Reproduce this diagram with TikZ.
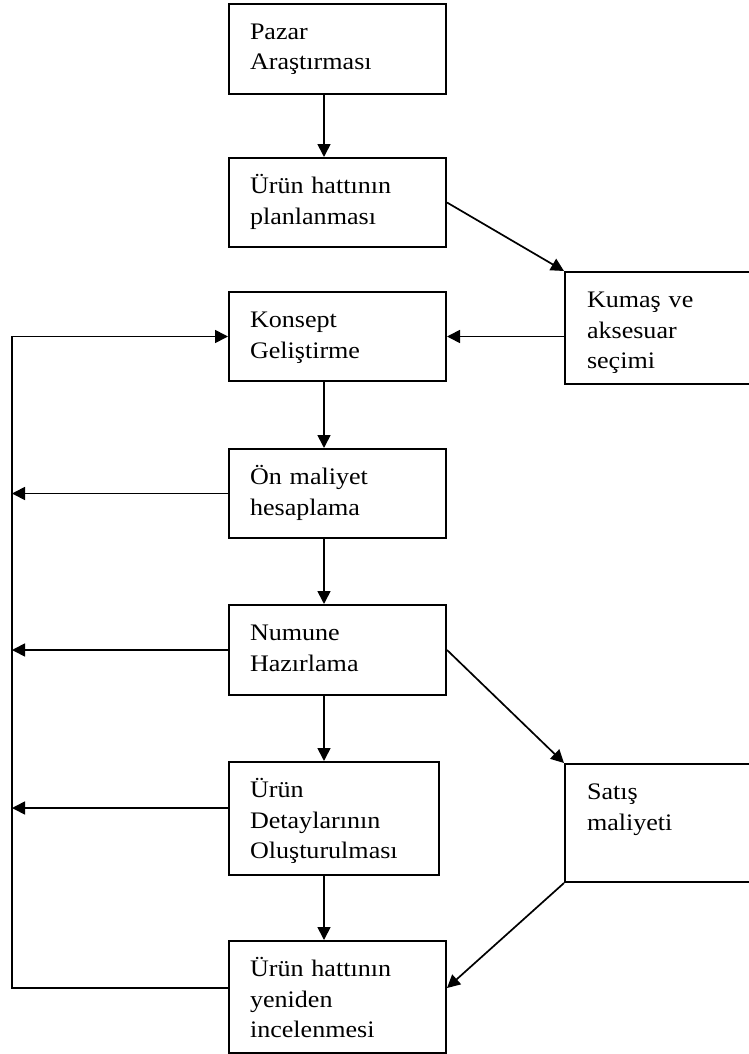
\documentclass[tikz,border=0pt]{standalone}
\usepackage{fontspec}
\setmainfont{Liberation Serif}[FakeStretch=1.1]
\usetikzlibrary{arrows.meta}

\begin{document}
\begin{tikzpicture}[
  x=1pt, y=-1pt,
  every node/.style={font=\fontsize{23.7}{30.5}\selectfont},
  stage/.style={rectangle, draw, line width=2pt, anchor=north west, align=left, text width=175pt, inner xsep=21pt, inner ysep=0pt, text height=35.5pt},
  side/.style={stage, text width=144pt, inner xsep=22pt},
  arrow/.style={line width=1.7pt, -{Triangle[length=13pt, width=13pt]}}
]
\useasboundingbox (0,0) rectangle (748,1054);

% Main column
\node[stage, text depth=54.5pt] (pazar) at (228,3) {Pazar\\Araştırması};
\node[stage, text depth=53.5pt] (plan) at (228,157) {Ürün hattının\\planlanması};
\node[stage, text depth=53.5pt] (konsept) at (228,291) {Konsept\\Geliştirme};
\node[stage, text depth=53.5pt] (onmaliyet) at (228,448) {Ön maliyet\\hesaplama};
\node[stage, text depth=54.5pt] (numune) at (228,604) {Numune\\Hazırlama};
\node[stage, text depth=77.5pt, text width=168pt] (detay) at (228,761) {Ürün\\Detaylarının\\Oluşturulması};
\node[stage, text depth=76.5pt] (yeniden) at (228,940) {Ürün hattının\\yeniden\\incelenmesi};

% Side nodes
\node[side, text depth=76.5pt] (kumas) at (564,271) {Kumaş ve\\aksesuar\\seçimi};
\node[side, text depth=82.5pt] (satis) at (564,763) {Satış\\maliyeti};

% Feedback line
\coordinate (loop) at (12,0);

% Arrows
\draw[arrow] ([xshift=96pt]pazar.south west) -- ([xshift=96pt]plan.north west);
\draw[arrow] (plan.east) -- (kumas.north west);
\draw[arrow] (kumas.west |- konsept.east) -- (konsept.east);
\draw[arrow] ([xshift=96pt]konsept.south west) -- ([xshift=96pt]onmaliyet.north west);
\draw[arrow] ([xshift=96pt]onmaliyet.south west) -- ([xshift=96pt]numune.north west);
\draw[arrow] ([xshift=96pt]numune.south west) -- ([xshift=96pt]detay.north west);
\draw[arrow] ([xshift=96pt]detay.south west) -- ([xshift=96pt]yeniden.north west);
\draw[arrow] (numune.east) -- (satis.north west);
\draw[arrow] (satis.south west) -- ([yshift=9pt]yeniden.east);

% Loop back to Konsept
\draw[arrow] ([yshift=9pt]yeniden.west) -| (loop |- konsept.west) -- (konsept.west);
\draw[arrow] (onmaliyet.west) -- (onmaliyet.west -| loop);
\draw[arrow] (numune.west) -- (numune.west -| loop);
\draw[arrow] ([yshift=10.5pt]detay.west) -- ([yshift=10.5pt]detay.west -| loop);

\end{tikzpicture}
\end{document}
